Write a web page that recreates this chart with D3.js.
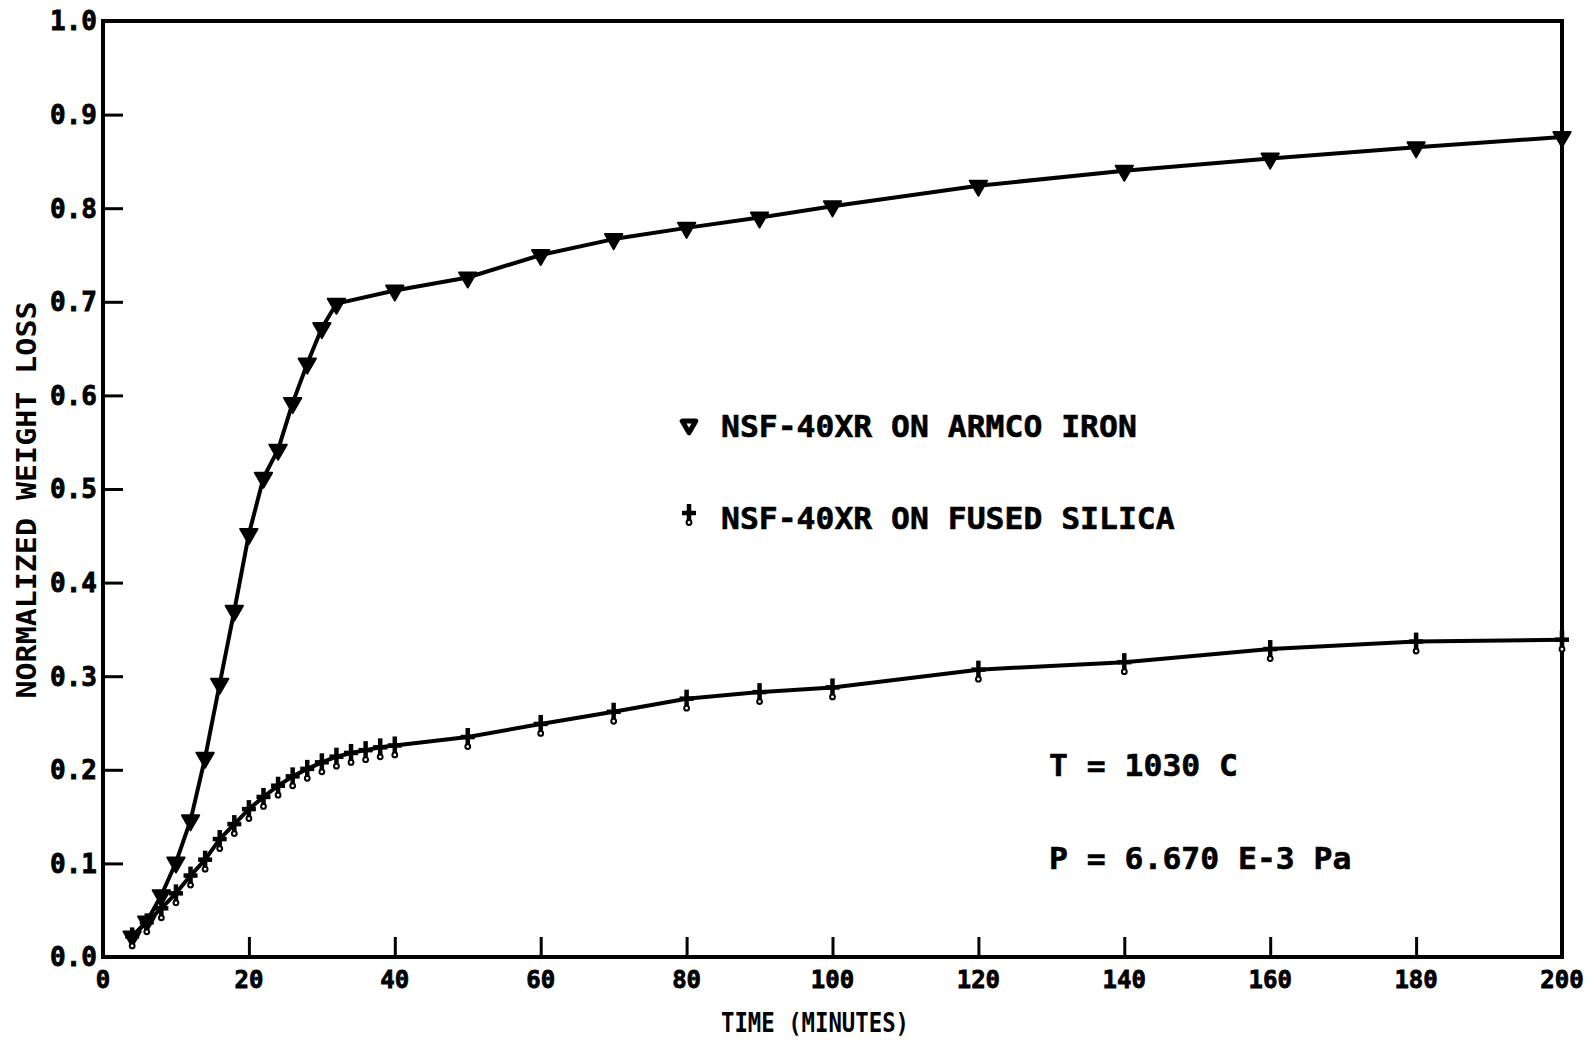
<!DOCTYPE html>
<html>
<head>
    <meta charset="utf-8">
    <title>Normalized weight loss</title>
    <script src="https://d3js.org/d3.v7.min.js"></script>
    <style>
        body { margin: 0; background: #fff; }
        text { font-family: "DejaVu Sans Mono", monospace; font-weight: bold; fill: #000; }
    </style>
</head>
<body>
    <script>
        // data
        var armcoTime = [4, 6, 8, 10, 12, 14, 16, 18, 20, 22, 24, 26, 28, 30, 32, 40, 50, 60, 70, 80, 90, 100, 120, 140, 160, 180, 200];
        var armcoLoss = [0.022, 0.038, 0.066, 0.101, 0.146, 0.213, 0.292, 0.370, 0.452, 0.512, 0.542, 0.592, 0.634, 0.672, 0.698, 0.712, 0.726, 0.750, 0.767, 0.779, 0.790, 0.802, 0.824, 0.840, 0.853, 0.865, 0.876];

        var silicaTime = [4, 6, 8, 10, 12, 14, 16, 18, 20, 22, 24, 26, 28, 30, 32, 34, 36, 38, 40, 50, 60, 70, 80, 90, 100, 120, 140, 160, 180, 200];
        var silicaLoss = [0.022, 0.037, 0.052, 0.068, 0.087, 0.104, 0.126, 0.142, 0.158, 0.171, 0.183, 0.193, 0.201, 0.208, 0.214, 0.218, 0.221, 0.224, 0.226, 0.235, 0.249, 0.262, 0.276, 0.283, 0.288, 0.307, 0.315, 0.329, 0.337, 0.339];

        var xTicks = [0, 20, 40, 60, 80, 100, 120, 140, 160, 180, 200];
        var yTicks = [0, 0.1, 0.2, 0.3, 0.4, 0.5, 0.6, 0.7, 0.8, 0.9, 1.0];

        var legendLabels = ["NSF-40XR ON ARMCO IRON", "NSF-40XR ON FUSED SILICA"];
        var conditions = ["T = 1030 C", "P = 6.670 E-3 Pa"];

        var width = 1589;
        var height = 1042;

        var x = d3.scaleLinear().domain([0, 200]).range([103, 1562]);
        var y = d3.scaleLinear().domain([0, 1]).range([957, 21]);

        var svg = d3.select("body").append("svg")
            .attr("width", width)
            .attr("height", height);

        // frame
        svg.append("rect")
            .attr("x", x(0)).attr("y", y(1))
            .attr("width", x(200) - x(0)).attr("height", y(0) - y(1))
            .attr("fill", "none").attr("stroke", "#000").attr("stroke-width", 4);

        // x axis, ticks pointing inward
        var xAxis = d3.axisTop(x).tickValues(xTicks).tickSize(20).tickFormat("");
        var gx = svg.append("g").attr("transform", "translate(0," + y(0) + ")").call(xAxis);
        gx.select(".domain").remove();
        gx.selectAll("line").attr("stroke-width", 3);

        svg.selectAll("text.xlab")
            .data(xTicks)
            .enter().append("text")
            .attr("class", "xlab")
            .attr("x", function(d) { return x(d); })
            .attr("y", 988)
            .attr("text-anchor", "middle")
            .attr("font-size", 24)
            .attr("stroke", "#000").attr("stroke-width", 0.8)
            .text(function(d) { return d; });

        var yAxis = d3.axisLeft(y).tickValues(yTicks).tickSize(-20).tickFormat("");
        var gy = svg.append("g").attr("transform", "translate(" + x(0) + ",0)").call(yAxis);
        gy.select(".domain").remove();
        gy.selectAll("line").attr("stroke-width", 3);

        svg.selectAll("text.ylab")
            .data(yTicks)
            .enter().append("text")
            .attr("class", "ylab")
            .attr("x", 97)
            .attr("y", function(d) { return y(d); })
            .attr("dy", "0.36em")
            .attr("text-anchor", "end")
            .attr("font-size", 26)
            .attr("stroke", "#000").attr("stroke-width", 0.8)
            .text(function(d) { return d3.format(".1f")(d); });

        // axis titles
        svg.append("text")
            .attr("x", 815).attr("y", 1032)
            .attr("text-anchor", "middle")
            .attr("font-size", 27)
            .attr("textLength", 188)
            .attr("lengthAdjust", "spacingAndGlyphs")
            .text("TIME (MINUTES)");

        svg.append("text")
            .attr("transform", "translate(36,500) rotate(-90)")
            .attr("text-anchor", "middle")
            .attr("font-size", 26)
            .attr("textLength", 397)
            .attr("lengthAdjust", "spacingAndGlyphs")
            .text("NORMALIZED WEIGHT LOSS");

        // series
        var armco = armcoTime.map(function(t, i) { return [t, armcoLoss[i]]; });
        var silica = silicaTime.map(function(t, i) { return [t, silicaLoss[i]]; });

        var line = d3.line()
            .x(function(d) { return x(d[0]); })
            .y(function(d) { return y(d[1]); });

        svg.append("path").datum(armco).attr("d", line)
            .attr("fill", "none").attr("stroke", "#000").attr("stroke-width", 4).attr("stroke-linejoin", "round");
        svg.append("path").datum(silica).attr("d", line)
            .attr("fill", "none").attr("stroke", "#000").attr("stroke-width", 4).attr("stroke-linejoin", "round");

        var tri = d3.symbol().type(d3.symbolTriangle).size(130);

        function drawTriangle(g, cx, cy) {
            g.append("path")
                .attr("d", tri())
                .attr("transform", "translate(" + cx + "," + cy + ") rotate(180)")
                .attr("fill", "#000").attr("stroke", "#000").attr("stroke-width", 2).attr("stroke-linejoin", "round");
        }

        function drawCross(g, cx, cy) {
            var c = g.append("g").attr("transform", "translate(" + cx + "," + cy + ")");
            c.append("line").attr("x1", -7).attr("x2", 7).attr("y1", 0).attr("y2", 0)
                .attr("stroke", "#000").attr("stroke-width", 4.5);
            c.append("line").attr("x1", 0).attr("x2", 0).attr("y1", -9).attr("y2", 8)
                .attr("stroke", "#000").attr("stroke-width", 4.5);
            c.append("circle").attr("cx", 0).attr("cy", 9.5).attr("r", 2.4)
                .attr("fill", "#fff").attr("stroke", "#000").attr("stroke-width", 2);
        }

        var marks = svg.append("g");
        armco.forEach(function(d) { drawTriangle(marks, x(d[0]), y(d[1])); });
        silica.forEach(function(d) { drawCross(marks, x(d[0]), y(d[1])); });

        // legend
        var leg = svg.append("g");
        leg.append("path")
            .attr("d", d3.symbol().type(d3.symbolTriangle).size(80)())
            .attr("transform", "translate(689,425) rotate(180)")
            .attr("fill", "#fff").attr("stroke", "#000").attr("stroke-width", 5).attr("stroke-linejoin", "round");
        drawCross(leg, 689, 513);

        leg.selectAll("text.leg")
            .data(legendLabels)
            .enter().append("text")
            .attr("class", "leg")
            .attr("x", 721)
            .attr("y", function(d, i) { return i === 0 ? 437 : 529; })
            .attr("font-size", 31)
            .attr("stroke", "#000").attr("stroke-width", 0.6)
            .attr("textLength", function(d) { return d.length * 18.9; })
            .attr("lengthAdjust", "spacingAndGlyphs")
            .text(function(d) { return d; });

        svg.selectAll("text.cond")
            .data(conditions)
            .enter().append("text")
            .attr("class", "cond")
            .attr("x", 1049)
            .attr("y", function(d, i) { return i === 0 ? 776 : 869; })
            .attr("font-size", 31)
            .attr("stroke", "#000").attr("stroke-width", 0.6)
            .attr("textLength", function(d) { return d.length * 18.9; })
            .attr("lengthAdjust", "spacingAndGlyphs")
            .text(function(d) { return d; });
    </script>
</body>
</html>
